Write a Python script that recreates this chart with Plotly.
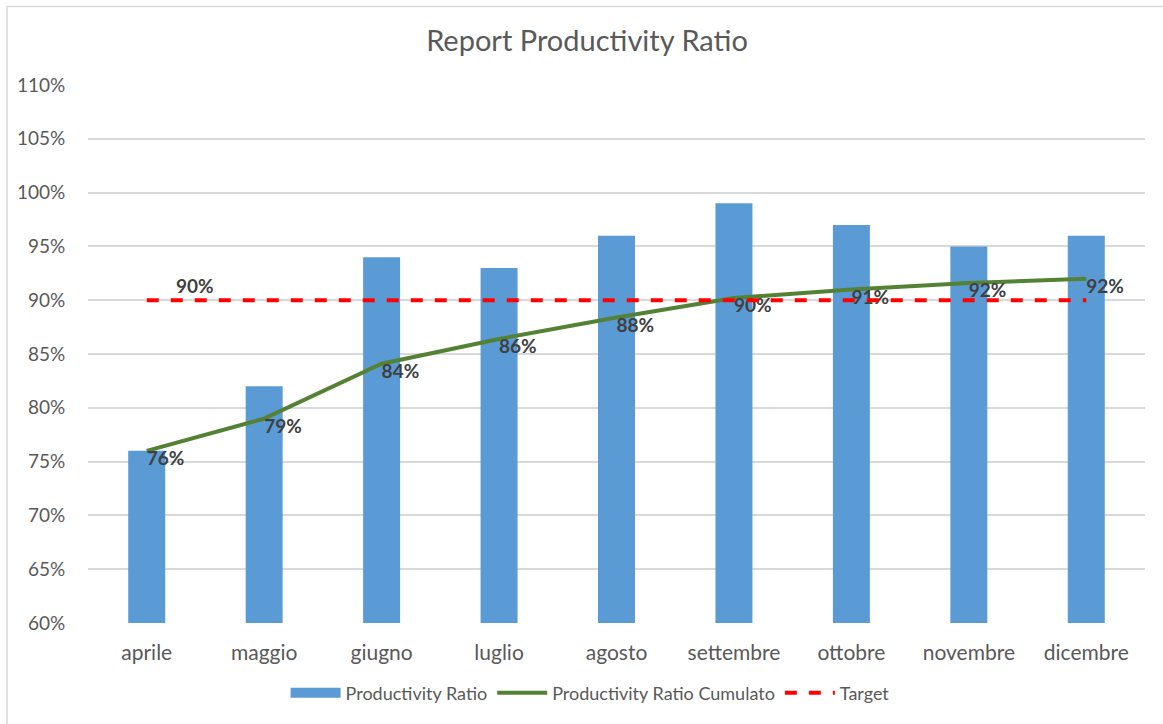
import plotly.graph_objects as go

mesi = ["aprile", "maggio", "giugno", "luglio", "agosto",
        "settembre", "ottobre", "novembre", "dicembre"]
productivity_ratio = [0.76, 0.82, 0.94, 0.93, 0.96, 0.99, 0.97, 0.95, 0.96]
productivity_cumulato = [0.76, 0.79, 0.841, 0.864, 0.884, 0.902, 0.91, 0.916, 0.92]
target = [0.90] * len(mesi)
y_ticks = [0.60, 0.65, 0.70, 0.75, 0.80, 0.85, 0.90, 0.95, 1.00, 1.05, 1.10]

FONT = "Lato, 'Open Sans', sans-serif"
GREY = "#595959"
LABEL = "#404040"
BLUE = "#5B9BD5"

fig = go.Figure()

fig.add_trace(go.Bar(
    x=mesi, y=productivity_ratio, name="Productivity Ratio",
    marker=dict(color=BLUE, line=dict(width=0)),
    showlegend=False, hoverinfo="x+y",
))

# wide legend swatch for the bar series
fig.add_trace(go.Scatter(
    x=[None], y=[None], name="Productivity Ratio",
    mode="lines", line=dict(color=BLUE, width=11),
    hoverinfo="skip",
))

fig.add_trace(go.Scatter(
    x=mesi, y=productivity_cumulato, name="Productivity Ratio Cumulato",
    mode="lines+text",
    line=dict(color="#548235", width=4),
    text=[f"{v:.0%}" for v in productivity_cumulato],
    textposition="bottom right",
    textfont=dict(family=FONT, size=19, color=LABEL, weight="bold"),
))

fig.add_trace(go.Scatter(
    x=mesi, y=target, name="Target",
    mode="lines",
    line=dict(color="#FF0000", width=4, dash="dash"),
))

# value label for the target line, shown once at the first month
fig.add_annotation(
    x=mesi[0], y=target[0], text=f"{target[0]:.0%}",
    showarrow=False, xanchor="left", yanchor="middle",
    xshift=27, yshift=15,
    font=dict(family=FONT, size=19, color=LABEL, weight="bold"),
)

# chart frame
fig.add_shape(
    type="rect", xref="paper", yref="paper",
    x0=-81 / 1057, x1=1.2, y0=-0.3, y1=1 + 79 / 541,
    line=dict(color="#D9D9D9", width=1.5), fillcolor="rgba(0,0,0,0)",
    layer="below",
)

fig.update_layout(
    width=1163, height=724,
    margin=dict(l=88, r=18, t=85, b=98),
    paper_bgcolor="white", plot_bgcolor="white",
    font=dict(family=FONT, color=GREY),
    title=dict(
        text="Report Productivity Ratio",
        x=587 / 1163, xanchor="center", xref="container",
        y=1 - 41 / 724, yanchor="middle",
        font=dict(family=FONT, size=29, color=GREY),
    ),
    bargap=0.685,
    showlegend=True,
    legend=dict(
        orientation="h", x=0.475, xanchor="center",
        y=-0.13, yanchor="middle",
        font=dict(family=FONT, size=18, color=GREY),
        itemwidth=50, traceorder="normal",
    ),
    xaxis=dict(
        showgrid=False, showline=False, zeroline=False,
        ticks="outside", ticklen=11, tickcolor="rgba(0,0,0,0)",
        tickfont=dict(family=FONT, size=21, color=GREY),
    ),
    yaxis=dict(
        range=[0.60, 1.10], tickvals=y_ticks, tickformat=".0%",
        showgrid=True, gridcolor="#D9D9D9", gridwidth=1.5,
        zeroline=False, showline=False,
        ticks="outside", ticklen=18, tickcolor="rgba(0,0,0,0)",
        tickfont=dict(family=FONT, size=19, color=GREY),
    ),
)

fig.write_html("out.html")
